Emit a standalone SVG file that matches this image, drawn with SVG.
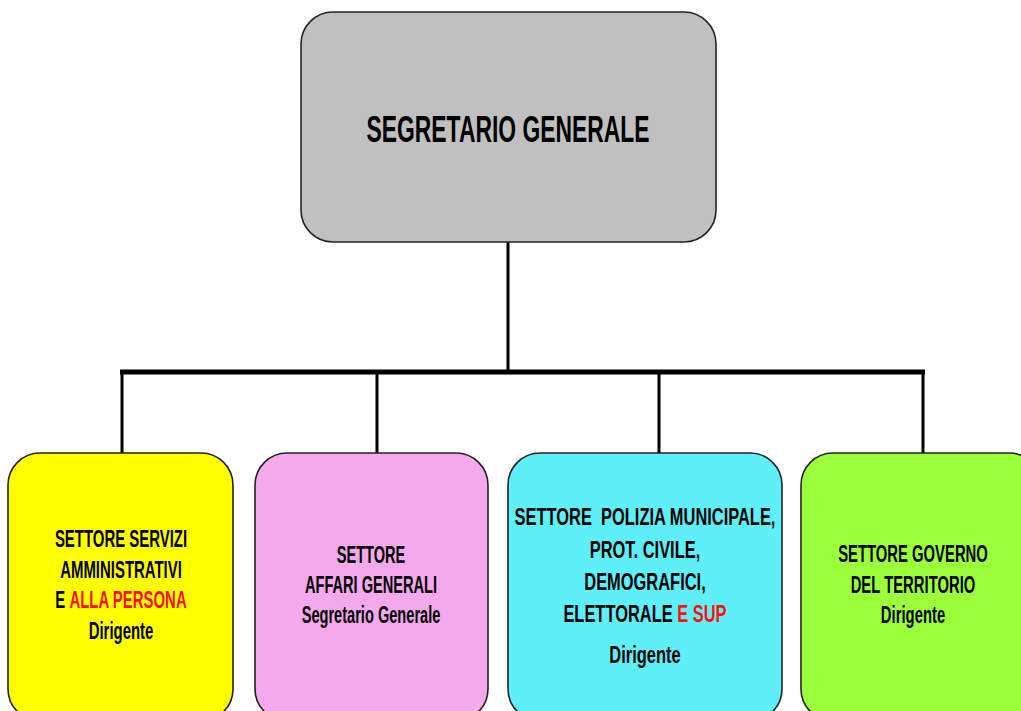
<svg xmlns="http://www.w3.org/2000/svg" width="1021" height="711" viewBox="0 0 1021 711">
<style>
.box{stroke:#222;stroke-width:1.6}
.t{font-family:"Liberation Sans",Arial,sans-serif;font-weight:bold;font-size:23px;fill:#000;text-anchor:middle;white-space:pre}
.red{fill:#FF1010}
.ln{stroke:#000;stroke-width:3;fill:none}
</style>
<rect width="1021" height="711" fill="#fff"/>
<g id="connectors">
<line class="ln" x1="508" y1="242" x2="508" y2="372"/>
<line x1="120" y1="372" x2="925" y2="372" stroke="#000" stroke-width="5"/>
<line class="ln" x1="122" y1="372" x2="122" y2="454"/>
<line class="ln" x1="377" y1="372" x2="377" y2="454"/>
<line class="ln" x1="659" y1="372" x2="659" y2="454"/>
<line class="ln" x1="923" y1="372" x2="923" y2="454"/>
</g>
<g id="segretario">
<rect class="box" x="301" y="12" width="415" height="230" rx="32" fill="#C0C0C0"/>
<g transform="translate(508 0) scale(0.61 1)"><text class="t" x="0" y="142" style="font-size:37.5px">SEGRETARIO GENERALE</text></g>
</g>
<g id="servizi">
<rect class="box" x="8" y="453" width="225" height="268" rx="32" fill="#FFFF00"/>
<g transform="translate(121 0) scale(0.65 1)">
<text class="t" x="0" y="547">SETTORE SERVIZI</text>
<text class="t" x="0" y="578">AMMINISTRATIVI</text>
<text class="t" x="0" y="608">E <tspan class="red">ALLA PERSONA</tspan></text>
<text class="t" x="0" y="639">Dirigente</text>
</g>
</g>
<g id="affari">
<rect class="box" x="255" y="453" width="233" height="268" rx="32" fill="#F4A9EC"/>
<g transform="translate(371 0) scale(0.635 1)">
<text class="t" x="0" y="563">SETTORE</text>
<text class="t" x="0" y="593">AFFARI GENERALI</text>
<text class="t" x="0" y="623">Segretario Generale</text>
</g>
</g>
<g id="polizia">
<rect class="box" x="508" y="453" width="274" height="268" rx="32" fill="#5EF0F8"/>
<g transform="translate(645 0) scale(0.715 1)">
<text class="t" x="0" y="525">SETTORE  POLIZIA MUNICIPALE,</text>
<text class="t" x="0" y="558">PROT. CIVILE,</text>
<text class="t" x="0" y="590">DEMOGRAFICI,</text>
<text class="t" x="0" y="622">ELETTORALE <tspan class="red">E SUP</tspan></text>
<text class="t" x="0" y="663">Dirigente</text>
</g>
</g>
<g id="governo">
<rect class="box" x="801" y="453" width="240" height="268" rx="32" fill="#9BFF3A"/>
<g transform="translate(913 0) scale(0.645 1)">
<text class="t" x="0" y="562">SETTORE GOVERNO</text>
<text class="t" x="0" y="593">DEL TERRITORIO</text>
<text class="t" x="0" y="623">Dirigente</text>
</g>
</g>
</svg>
